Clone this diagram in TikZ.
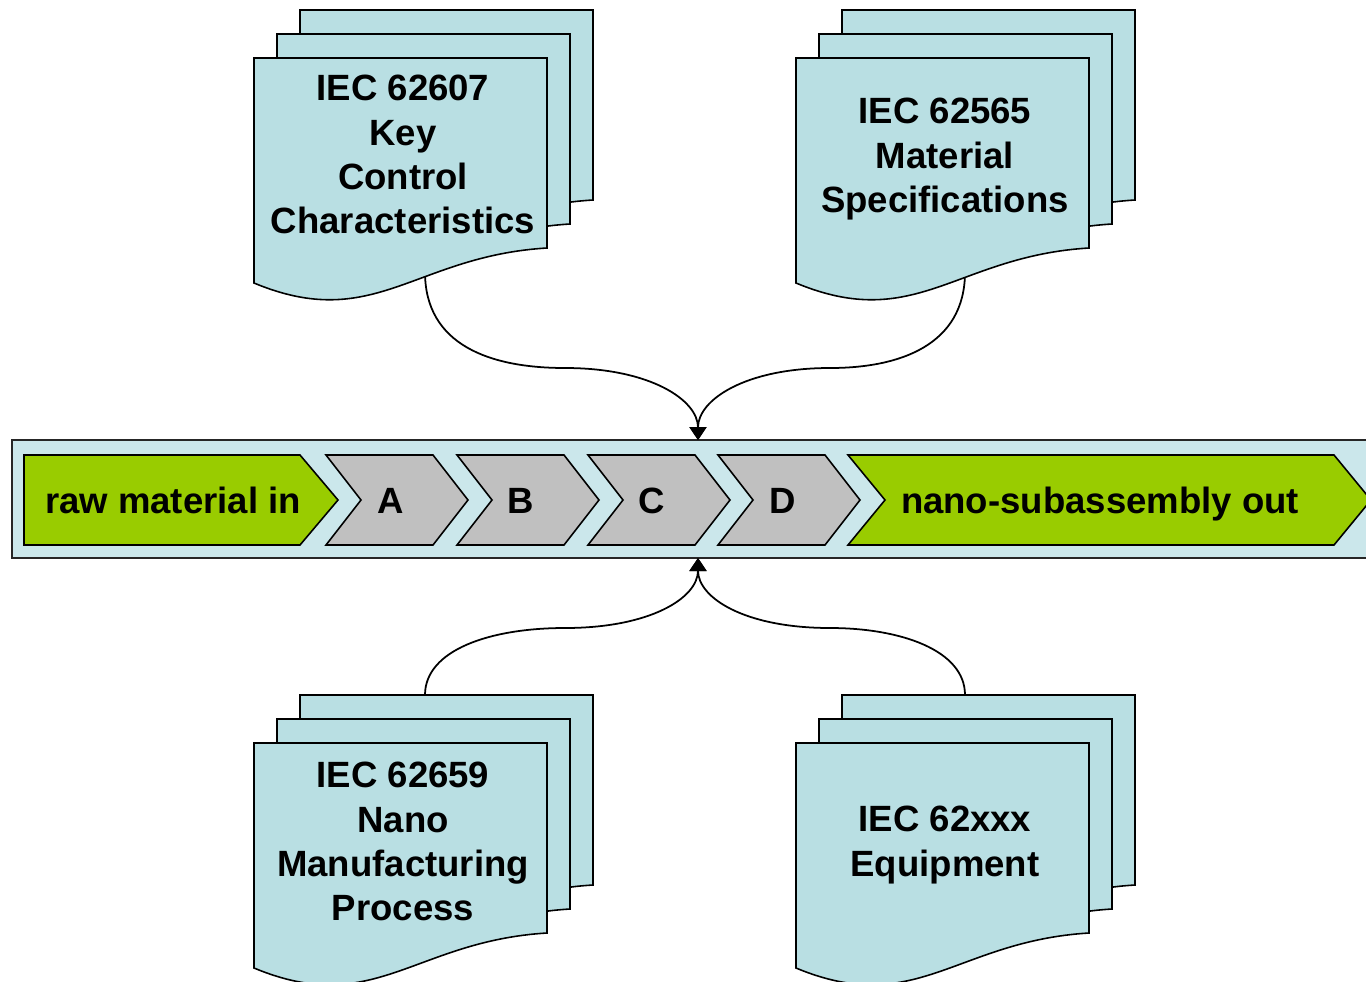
\documentclass[tikz,border=0pt]{standalone}
\usepackage{fontspec}
\setmainfont{Liberation Sans}
\usetikzlibrary{arrows.meta}
\definecolor{docblue}{HTML}{B9DFE3}
\definecolor{bandblue}{HTML}{CBE7EB}
\definecolor{leaf}{HTML}{99CC00}
\definecolor{chev}{HTML}{C0C0C0}
\begin{document}
\begin{tikzpicture}[x=0.02cm,y=-0.02cm,
  outline/.style={draw=black,line width=0.9pt,line join=miter},
  sheet/.style={outline,fill=docblue},
  stagegrey/.style={outline,fill=chev},
  stagegreen/.style={outline,fill=leaf},
  doclabel/.style={font=\fontsize{20.8}{25.2}\selectfont\bfseries,align=center,inner sep=0pt,anchor=north},
  bandlabel/.style={font=\fontsize{20.8}{25}\selectfont\bfseries,inner sep=0pt,anchor=base},
  feed/.style={draw=black,line width=1pt,-{Triangle[length=0.26cm,width=0.34cm]}},
  docsheet/.pic={\path[sheet] (0,0) -- (293,0) -- (293,190) .. controls (160,198) and (120,275) .. (0,225) -- cycle;}
]
\useasboundingbox (0,0) rectangle (1366,981);
\clip (0,0) rectangle (1366,981);

% process band
\fill[bandblue] (12,440) rectangle (1380,558);
\draw[draw=black!85,line width=1.2pt] (1380,440) -- (12,440) -- (12,558) -- (1380,558);

% stages
\path[stagegreen] (24,455) -- (300,455) -- (338,500) -- (300,545) -- (24,545) -- cycle;
\foreach \x in {326,457,588,718}{
  \path[stagegrey] (\x,455) -- (\x+107,455) -- (\x+142,500) -- (\x+107,545) -- (\x,545) -- (\x+35,500) -- cycle;
}
\path[stagegreen] (848,455) -- (1334,455) -- (1371,500) -- (1334,545) -- (848,545) -- (885,500) -- cycle;

\node[bandlabel] (rawin) at (173,513) {raw material in};
\node[bandlabel] (stA) at (391,513) {A};
\node[bandlabel] (stB) at (521,513) {B};
\node[bandlabel] (stC) at (652,513) {C};
\node[bandlabel] (stD) at (783,513) {D};
\node[bandlabel] (nanoout) at (1100,513) {nano-subassembly out};

% connector end points
\coordinate (kccout) at (425,272);
\coordinate (specout) at (965,272);
\coordinate (procin) at (425,695);
\coordinate (equipin) at (965,695);
\coordinate (bandtop) at (698,440);
\coordinate (bandbot) at (698,558);

\draw[feed] (kccout) .. controls (425,345) and (490,368) .. (565,368) .. controls (650,368) and (698,400) .. (bandtop);
\draw[feed] (specout) .. controls (965,345) and (900,368) .. (830,368) .. controls (745,368) and (698,400) .. (bandtop);
\draw[feed] (procin) .. controls (425,650) and (490,628) .. (565,628) .. controls (650,628) and (698,598) .. (bandbot);
\draw[feed] (equipin) .. controls (965,650) and (900,628) .. (830,628) .. controls (745,628) and (698,598) .. (bandbot);

% document stacks
\foreach \px/\py in {254/58, 796/58, 254/743, 796/743}{
  \begin{scope}[shift={(\px,\py)}]
    \pic at (46,-48) {docsheet};
    \pic at (23,-24) {docsheet};
    \pic at (0,0) {docsheet};
  \end{scope}
}

\node[doclabel] (kcc) at (403,75) {IEC 62607\\Key\\Control\\Characteristics};
\node[doclabel] (spec) at (945,98) {IEC 62565\\Material\\Specifications};
\node[doclabel] (proc) at (403,762) {IEC 62659\\Nano\\Manufacturing\\Process};
\node[doclabel] (equip) at (945,806) {IEC 62xxx\\Equipment};
\end{tikzpicture}
\end{document}
